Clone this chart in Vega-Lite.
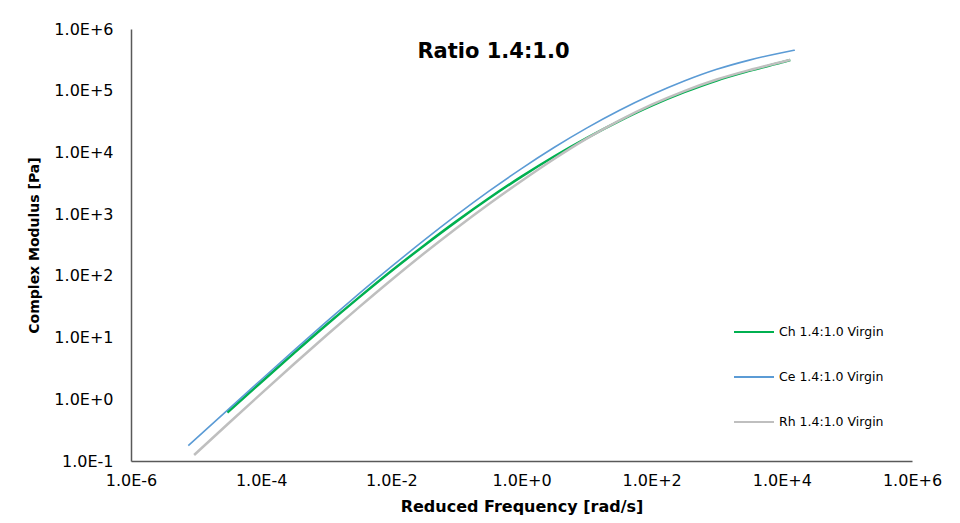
{
  "$schema": "https://vega.github.io/schema/vega-lite/v6.json",
  "autosize": "none",
  "width": 781,
  "height": 432,
  "padding": {"left": 131, "top": 29, "right": 48, "bottom": 62},
  "background": "white",
  "title": {
    "text": "Ratio 1.4:1.0",
    "anchor": "middle",
    "orient": "top",
    "baseline": "alphabetic",
    "offset": 0,
    "dx": -28,
    "dy": 58,
    "font": "DejaVu Sans",
    "fontSize": 21,
    "fontWeight": "bold",
    "color": "#000000"
  },
  "data": {
    "values": [
      {"series": "Ch 1.4:1.0 Virgin", "freq": 0.0000302, "modulus": 0.611},
      {"series": "Ch 1.4:1.0 Virgin", "freq": 0.0001, "modulus": 1.892},
      {"series": "Ch 1.4:1.0 Virgin", "freq": 0.0003162, "modulus": 5.546},
      {"series": "Ch 1.4:1.0 Virgin", "freq": 0.001, "modulus": 15.96},
      {"series": "Ch 1.4:1.0 Virgin", "freq": 0.003162, "modulus": 44.36},
      {"series": "Ch 1.4:1.0 Virgin", "freq": 0.01, "modulus": 119.7},
      {"series": "Ch 1.4:1.0 Virgin", "freq": 0.03162, "modulus": 308.3},
      {"series": "Ch 1.4:1.0 Virgin", "freq": 0.1, "modulus": 763.8},
      {"series": "Ch 1.4:1.0 Virgin", "freq": 0.3162, "modulus": 1807},
      {"series": "Ch 1.4:1.0 Virgin", "freq": 1, "modulus": 4055},
      {"series": "Ch 1.4:1.0 Virgin", "freq": 3.162, "modulus": 8590},
      {"series": "Ch 1.4:1.0 Virgin", "freq": 10, "modulus": 17100},
      {"series": "Ch 1.4:1.0 Virgin", "freq": 31.62, "modulus": 32211},
      {"series": "Ch 1.4:1.0 Virgin", "freq": 100, "modulus": 57280},
      {"series": "Ch 1.4:1.0 Virgin", "freq": 316.2, "modulus": 94624},
      {"series": "Ch 1.4:1.0 Virgin", "freq": 1000, "modulus": 146555},
      {"series": "Ch 1.4:1.0 Virgin", "freq": 3162, "modulus": 209411},
      {"series": "Ch 1.4:1.0 Virgin", "freq": 10000, "modulus": 289068},
      {"series": "Ch 1.4:1.0 Virgin", "freq": 13490, "modulus": 314775},

      {"series": "Ce 1.4:1.0 Virgin", "freq": 0.00000759, "modulus": 0.177},
      {"series": "Ce 1.4:1.0 Virgin", "freq": 0.00003162, "modulus": 0.6934},
      {"series": "Ce 1.4:1.0 Virgin", "freq": 0.0001, "modulus": 2.075},
      {"series": "Ce 1.4:1.0 Virgin", "freq": 0.0003162, "modulus": 6.152},
      {"series": "Ce 1.4:1.0 Virgin", "freq": 0.001, "modulus": 17.91},
      {"series": "Ce 1.4:1.0 Virgin", "freq": 0.003162, "modulus": 50.93},
      {"series": "Ce 1.4:1.0 Virgin", "freq": 0.01, "modulus": 140.6},
      {"series": "Ce 1.4:1.0 Virgin", "freq": 0.03162, "modulus": 375.0},
      {"series": "Ce 1.4:1.0 Virgin", "freq": 0.1, "modulus": 961.6},
      {"series": "Ce 1.4:1.0 Virgin", "freq": 0.3162, "modulus": 2355},
      {"series": "Ce 1.4:1.0 Virgin", "freq": 1, "modulus": 5470},
      {"series": "Ce 1.4:1.0 Virgin", "freq": 3.162, "modulus": 11995},
      {"series": "Ce 1.4:1.0 Virgin", "freq": 10, "modulus": 24717},
      {"series": "Ce 1.4:1.0 Virgin", "freq": 31.62, "modulus": 47643},
      {"series": "Ce 1.4:1.0 Virgin", "freq": 100, "modulus": 85704},
      {"series": "Ce 1.4:1.0 Virgin", "freq": 316.2, "modulus": 143219},
      {"series": "Ce 1.4:1.0 Virgin", "freq": 1000, "modulus": 221820},
      {"series": "Ce 1.4:1.0 Virgin", "freq": 3162, "modulus": 313329},
      {"series": "Ce 1.4:1.0 Virgin", "freq": 10000, "modulus": 413047},
      {"series": "Ce 1.4:1.0 Virgin", "freq": 15850, "modulus": 453942},

      {"series": "Rh 1.4:1.0 Virgin", "freq": 0.00000933, "modulus": 0.125},
      {"series": "Rh 1.4:1.0 Virgin", "freq": 0.00003162, "modulus": 0.4083},
      {"series": "Rh 1.4:1.0 Virgin", "freq": 0.0001, "modulus": 1.236},
      {"series": "Rh 1.4:1.0 Virgin", "freq": 0.0003162, "modulus": 3.69},
      {"series": "Rh 1.4:1.0 Virgin", "freq": 0.001, "modulus": 10.79},
      {"series": "Rh 1.4:1.0 Virgin", "freq": 0.003162, "modulus": 30.83},
      {"series": "Rh 1.4:1.0 Virgin", "freq": 0.01, "modulus": 85.7},
      {"series": "Rh 1.4:1.0 Virgin", "freq": 0.03162, "modulus": 230.1},
      {"series": "Rh 1.4:1.0 Virgin", "freq": 0.1, "modulus": 592.9},
      {"series": "Rh 1.4:1.0 Virgin", "freq": 0.3162, "modulus": 1462},
      {"series": "Rh 1.4:1.0 Virgin", "freq": 1, "modulus": 3451},
      {"series": "Rh 1.4:1.0 Virgin", "freq": 3.162, "modulus": 7834},
      {"series": "Rh 1.4:1.0 Virgin", "freq": 10, "modulus": 16711},
      {"series": "Rh 1.4:1.0 Virgin", "freq": 31.62, "modulus": 32734},
      {"series": "Rh 1.4:1.0 Virgin", "freq": 100, "modulus": 59293},
      {"series": "Rh 1.4:1.0 Virgin", "freq": 316.2, "modulus": 98628},
      {"series": "Rh 1.4:1.0 Virgin", "freq": 1000, "modulus": 151705},
      {"series": "Rh 1.4:1.0 Virgin", "freq": 3162, "modulus": 215278},
      {"series": "Rh 1.4:1.0 Virgin", "freq": 10000, "modulus": 292415},
      {"series": "Rh 1.4:1.0 Virgin", "freq": 13490, "modulus": 316228}
    ]
  },
  "mark": {"type": "line", "interpolate": "monotone", "strokeCap": "butt"},
  "encoding": {
    "x": {
      "field": "freq",
      "type": "quantitative",
      "scale": {"type": "log", "domain": [0.000001, 1000000], "nice": false},
      "axis": {
        "title": "Reduced Frequency [rad/s]",
        "values": [0.000001, 0.0001, 0.01, 1, 100, 10000, 1000000],
        "labelExpr": "upper(format(datum.value, '.1e'))",
        "grid": false,
        "ticks": false,
        "labelPadding": 11,
        "labelFlush": false,
        "labelOverlap": false,
        "titlePadding": 10
      }
    },
    "y": {
      "field": "modulus",
      "type": "quantitative",
      "scale": {"type": "log", "domain": [0.1, 1000000], "nice": false},
      "axis": {
        "title": "Complex Modulus [Pa]",
        "values": [0.1, 1, 10, 100, 1000, 10000, 100000, 1000000],
        "labelExpr": "upper(format(datum.value, '.1e'))",
        "grid": false,
        "ticks": false,
        "labelPadding": 18,
        "labelFlush": false,
        "labelOverlap": false,
        "titlePadding": 12,
        "titleFontSize": 14
      }
    },
    "color": {
      "field": "series",
      "type": "nominal",
      "sort": ["Ch 1.4:1.0 Virgin", "Ce 1.4:1.0 Virgin", "Rh 1.4:1.0 Virgin"],
      "scale": {
        "domain": ["Ch 1.4:1.0 Virgin", "Ce 1.4:1.0 Virgin", "Rh 1.4:1.0 Virgin"],
        "range": ["#00B050", "#5B9BD5", "#BFBFBF"]
      },
      "legend": {"title": null}
    },
    "strokeWidth": {
      "condition": {"test": "datum.series === 'Ce 1.4:1.0 Virgin'", "value": 1.6},
      "value": 2.5
    }
  },
  "config": {
    "view": {"stroke": null},
    "font": "DejaVu Sans",
    "axis": {
      "domainColor": "#595959",
      "domainWidth": 1.5,
      "labelFont": "DejaVu Sans",
      "labelFontSize": 16,
      "labelColor": "#000000",
      "titleFont": "DejaVu Sans",
      "titleFontSize": 16,
      "titleFontWeight": "bold",
      "titleColor": "#000000"
    },
    "legend": {
      "orient": "none",
      "legendX": 602,
      "legendY": 282,
      "padding": 0,
      "symbolType": "stroke",
      "symbolSize": 1600,
      "symbolStrokeWidth": 2,
      "labelFont": "DejaVu Sans",
      "labelFontSize": 12.5,
      "labelColor": "#000000",
      "labelOffset": 4,
      "rowPadding": 17
    }
  }
}
